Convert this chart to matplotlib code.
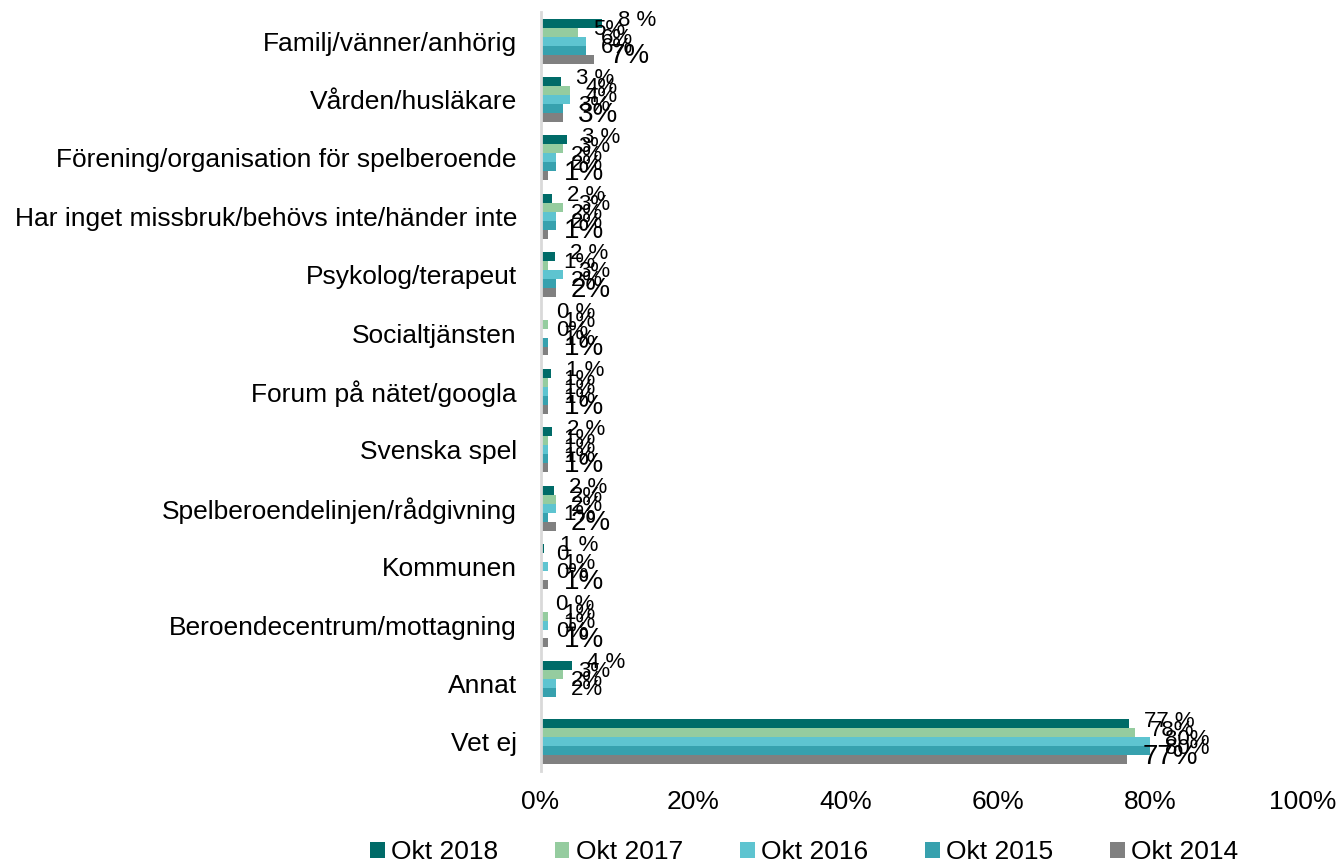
import numpy as np
import matplotlib.pyplot as plt

plt.rcParams['font.family'] = ['Liberation Sans', 'DejaVu Sans']

# categories, top to bottom
categories = ['Familj/vänner/anhörig', 'Vården/husläkare',
              'Förening/organisation för spelberoende',
              'Har inget missbruk/behövs inte/händer inte',
              'Psykolog/terapeut', 'Socialtjänsten', 'Forum på nätet/googla',
              'Svenska spel', 'Spelberoendelinjen/rådgivning', 'Kommunen',
              'Beroendecentrum/mottagning', 'Annat', 'Vet ej']

series = ['Okt 2018', 'Okt 2017', 'Okt 2016', 'Okt 2015', 'Okt 2014']
colors = ['#006B68', '#95CC9F', '#5EC4D0', '#37A1AE', '#808080']

# values (%), None = no label / no bar
okt2018 = [8.1, 2.7, 3.5, 1.5, 1.9, 0.2, 1.4, 1.5, 1.7, 0.5, 0.0, 4.1, 77.2]
okt2017 = [4.9, 3.9, 2.9, 2.9, 1.0, 1.0, 1.0, 1.0, 2.0, 0.0, 1.0, 2.9, 78.0]
okt2016 = [5.9, 3.9, 2.0, 2.0, 2.9, 0.0, 1.0, 1.0, 2.0, 1.0, 1.0, 2.0, 80.0]
okt2015 = [5.9, 2.9, 2.0, 2.0, 2.0, 1.0, 1.0, 1.0, 1.0, 0.0, 0.0, 2.0, 80.0]
okt2014 = [7.0, 2.9, 1.0, 1.0, 2.0, 1.0, 1.0, 1.0, 2.0, 1.0, 1.0, None, 77.0]

# data labels as printed
lab2018 = ['8 %', '3 %', '3 %', '2 %', '2 %', '0 %', '1 %', '2 %', '2 %', '1 %', '0 %', '4 %', '77 %']
lab2017 = ['5%', '4%', '3%', '3%', '1%', '1%', '1%', '1%', '2%', '0', '1%', '3%', '78%']
lab2016 = ['6%', '4%', '2%', '2%', '3%', '0%', '1%', '1%', '2%', '1%', '1%', '2%', '80%']
lab2015 = ['6%', '3%', '2%', '2%', '2%', '1%', '1%', '1%', '1%', '0%', '0%', '2%', '80%']
lab2014 = ['7%', '3%', '1%', '1%', '2%', '1%', '1%', '1%', '2%', '1%', '1%', None, '77%']

all_vals = [okt2018, okt2017, okt2016, okt2015, okt2014]
all_labs = [lab2018, lab2017, lab2016, lab2015, lab2014]
lab_sizes = [16, 16, 16, 16, 20]

fig = plt.figure(figsize=(13.38, 8.63), dpi=100)
ax = fig.add_axes([0.404, 0.1066, 0.5695, 0.8797])

n = len(categories)
y = np.arange(n)
bh = 0.154
for k in range(len(series)):
    vals = np.array([np.nan if v is None else v for v in all_vals[k]])
    pos = y - 2 * bh + k * bh
    ax.barh(pos, np.nan_to_num(vals), height=bh, color=colors[k], label=series[k])
    for i in range(n):
        if all_labs[k][i] is None:
            continue
        ax.annotate(all_labs[k][i], (vals[i], pos[i]), xytext=(11, 2),
                    textcoords='offset points', va='center', ha='left',
                    fontsize=lab_sizes[k])

ax.set_ylim(n - 0.5, -0.5)
ax.set_xlim(0, 100)
ax.set_yticks(y)
ax.set_yticklabels(categories, fontsize=19)
ax.set_xticks(np.arange(0, 101, 20))
ax.set_xticklabels([f'{v}%' for v in range(0, 101, 20)], fontsize=19)
ax.tick_params(axis='both', length=0)
ax.tick_params(axis='y', pad=17)
ax.tick_params(axis='x', pad=14)
for s in ['top', 'right', 'bottom']:
    ax.spines[s].set_visible(False)
ax.spines['left'].set_color('#D9D9D9')
ax.spines['left'].set_linewidth(2)

fig.legend(loc='center', bbox_to_anchor=(0.601, 0.0127), ncol=5, frameon=False,
           fontsize=19, handlelength=0.55, handleheight=0.55, handletextpad=0.25,
           columnspacing=2.15, borderpad=0)

plt.savefig('out.png', dpi=100)
